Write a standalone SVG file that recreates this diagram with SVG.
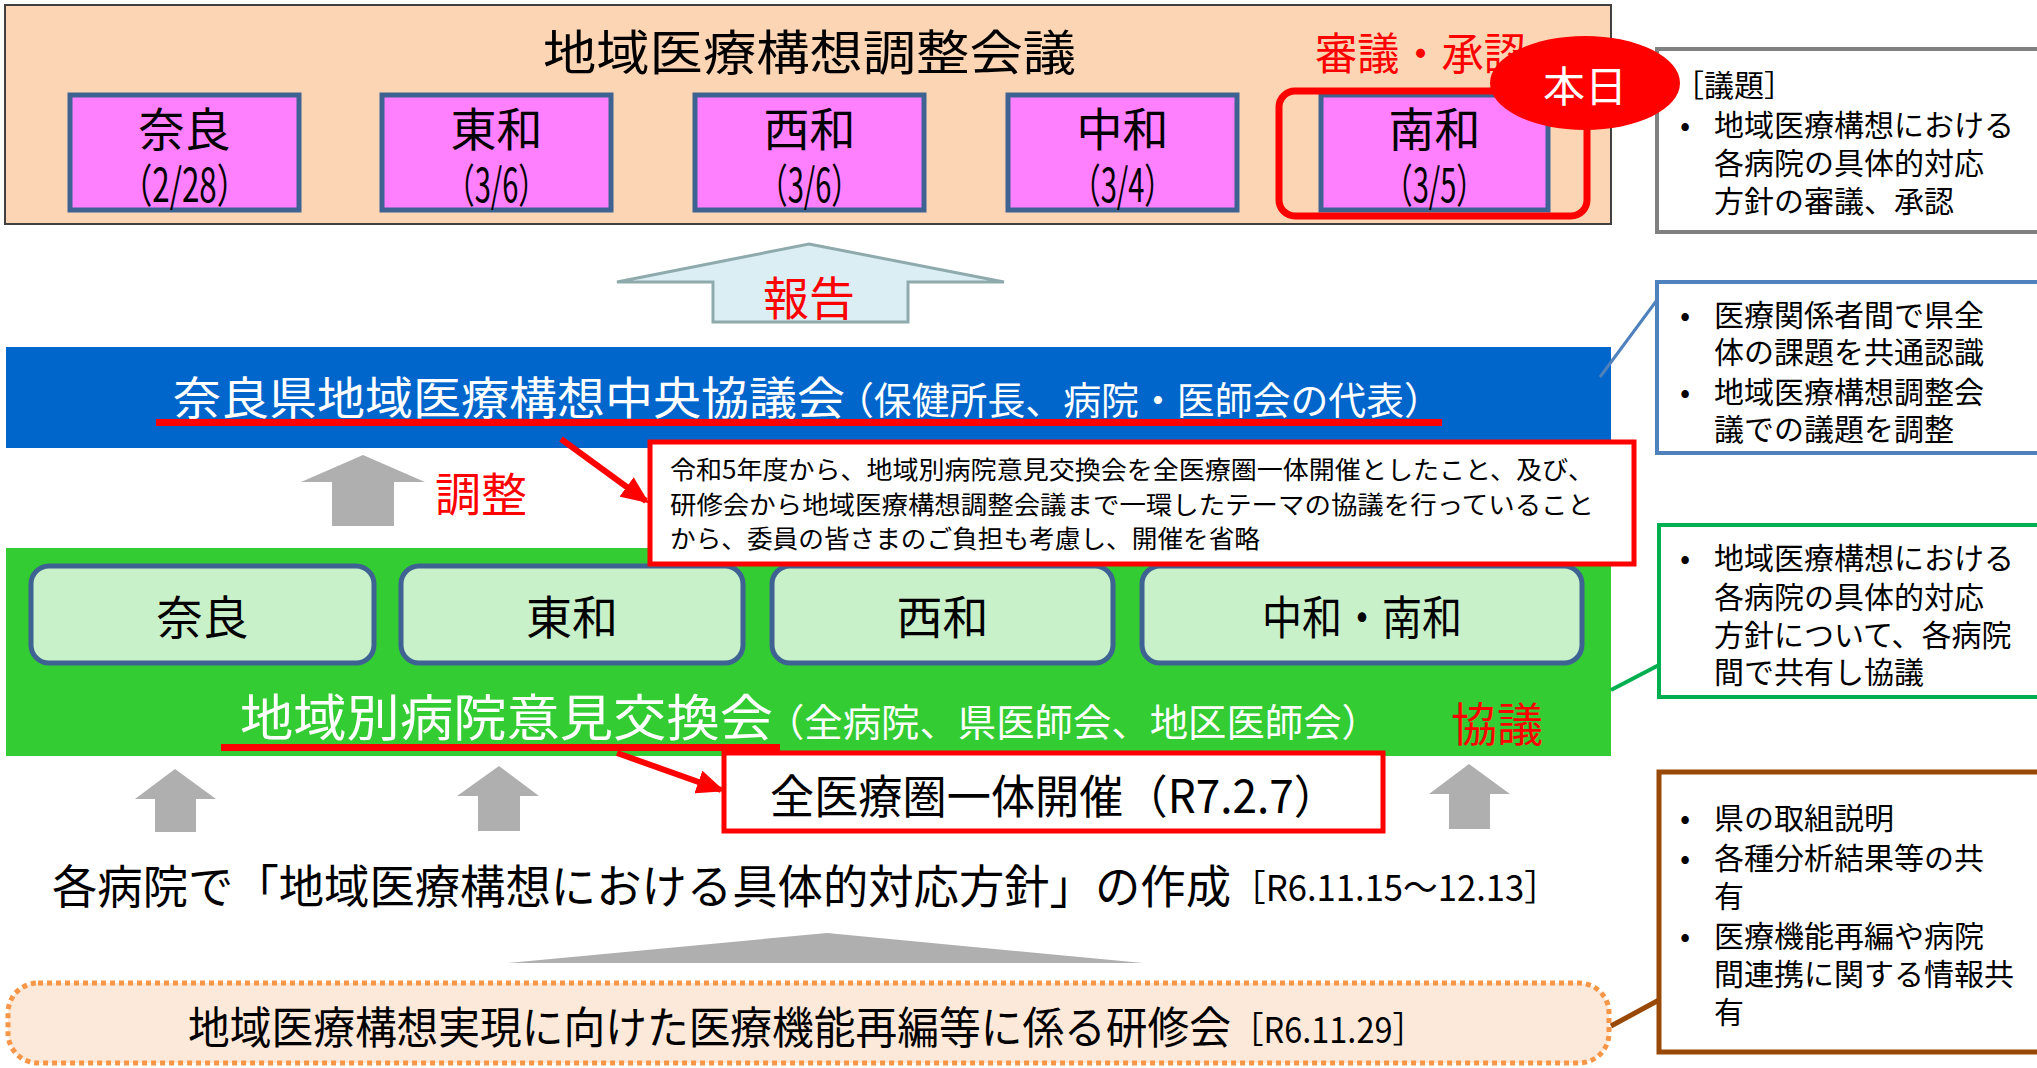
<svg xmlns="http://www.w3.org/2000/svg" width="2037" height="1068" viewBox="0 0 2037 1068">
<style>
text{font-family:"Noto Sans CJK JP","Noto Sans",sans-serif;dominant-baseline:central}
.pink{fill:#FF80FF;stroke:#3E6392;stroke-width:5}
.lg{fill:#C8F0C9;stroke:#3E6392;stroke-width:5}
.big{font-size:46px;fill:#000}
.side{font-size:30px;fill:#000}
.red{fill:#FF0000}
.wh{fill:#FFFFFF}
.garrow{fill:#AFAFAF}
</style>
<defs>
<marker id="ah" markerUnits="userSpaceOnUse" markerWidth="28" markerHeight="24" refX="24" refY="12" orient="auto">
<path d="M0,0 L28,12 L0,24 Z" fill="#FF0000"/>
</marker>
</defs>
<rect width="2037" height="1068" fill="#FFFFFF"/>

<!-- Right side boxes -->
<g id="box-agenda">
<rect x="1657" y="49" width="390" height="183" fill="#FFFFFF" stroke="#808080" stroke-width="4"/>
<text class="side" x="1674" y="83">［議題］</text>
<text class="side" x="1680" y="123">•</text>
<text class="side" x="1714" y="123">地域医療構想における</text>
<text class="side" x="1714" y="161">各病院の具体的対応</text>
<text class="side" x="1714" y="199">方針の審議、承認</text>
</g>
<g id="box-central">
<rect x="1657" y="282" width="390" height="171" fill="#FFFFFF" stroke="#4F81BD" stroke-width="4"/>
<text class="side" x="1680" y="313">•</text>
<text class="side" x="1714" y="313">医療関係者間で県全</text>
<text class="side" x="1714" y="350">体の課題を共通認識</text>
<text class="side" x="1680" y="390">•</text>
<text class="side" x="1714" y="390">地域医療構想調整会</text>
<text class="side" x="1714" y="427">議での議題を調整</text>
</g>
<g id="box-regional">
<rect x="1659" y="525" width="390" height="172" fill="#FFFFFF" stroke="#00B050" stroke-width="4"/>
<text class="side" x="1680" y="556">•</text>
<text class="side" x="1714" y="556">地域医療構想における</text>
<text class="side" x="1714" y="595">各病院の具体的対応</text>
<text class="side" x="1714" y="633">方針について、各病院</text>
<text class="side" x="1714" y="670">間で共有し協議</text>
</g>
<g id="box-training">
<rect x="1659" y="772" width="390" height="280" fill="#FFFFFF" stroke="#984807" stroke-width="5"/>
<text class="side" x="1680" y="816">•</text>
<text class="side" x="1714" y="816">県の取組説明</text>
<text class="side" x="1680" y="856">•</text>
<text class="side" x="1714" y="856">各種分析結果等の共</text>
<text class="side" x="1714" y="894">有</text>
<text class="side" x="1680" y="934">•</text>
<text class="side" x="1714" y="934">医療機能再編や病院</text>
<text class="side" x="1714" y="972">間連携に関する情報共</text>
<text class="side" x="1714" y="1010">有</text>
</g>

<!-- Top: 地域医療構想調整会議 -->
<g id="chousei">
<rect x="5" y="5" width="1606" height="219" fill="#FCD5B4" stroke="#404040" stroke-width="2"/>
<text x="543" y="49" font-size="48" fill="#000" textLength="533" lengthAdjust="spacingAndGlyphs">地域医療構想調整会議</text>
<text x="1315" y="51" font-size="44" class="red" textLength="211" lengthAdjust="spacingAndGlyphs">審議・承認</text>
</g>
<g id="nara-top">
<rect class="pink" x="70" y="95" width="229" height="115"/>
<text class="big" x="184.5" y="126" text-anchor="middle" textLength="92" lengthAdjust="spacingAndGlyphs">奈良</text>
<text class="big" x="184.5" y="182" text-anchor="middle" textLength="127" lengthAdjust="spacingAndGlyphs">（2/28）</text>
</g>
<g id="touwa-top">
<rect class="pink" x="382" y="95" width="229" height="115"/>
<text class="big" x="496.5" y="126" text-anchor="middle" textLength="92" lengthAdjust="spacingAndGlyphs">東和</text>
<text class="big" x="496.5" y="182" text-anchor="middle" textLength="102" lengthAdjust="spacingAndGlyphs">（3/6）</text>
</g>
<g id="seiwa-top">
<rect class="pink" x="695" y="95" width="229" height="115"/>
<text class="big" x="809.5" y="126" text-anchor="middle" textLength="92" lengthAdjust="spacingAndGlyphs">西和</text>
<text class="big" x="809.5" y="182" text-anchor="middle" textLength="102" lengthAdjust="spacingAndGlyphs">（3/6）</text>
</g>
<g id="chuwa-top">
<rect class="pink" x="1008" y="95" width="229" height="115"/>
<text class="big" x="1122.5" y="126" text-anchor="middle" textLength="92" lengthAdjust="spacingAndGlyphs">中和</text>
<text class="big" x="1122.5" y="182" text-anchor="middle" textLength="102" lengthAdjust="spacingAndGlyphs">（3/4）</text>
</g>
<g id="nanwa-top">
<rect class="pink" x="1321" y="95" width="227" height="115"/>
<text class="big" x="1434.5" y="126" text-anchor="middle" textLength="92" lengthAdjust="spacingAndGlyphs">南和</text>
<text class="big" x="1434.5" y="182" text-anchor="middle" textLength="102" lengthAdjust="spacingAndGlyphs">（3/5）</text>
<rect x="1279" y="91" width="308" height="125" rx="16" fill="none" stroke="#FF0000" stroke-width="7"/>
</g>
<g id="today">
<ellipse cx="1585" cy="83" rx="95" ry="47" fill="#FF0000"/>
<text x="1585" y="83" font-size="42" class="wh" text-anchor="middle">本日</text>
</g>

<!-- 報告 arrow -->
<g id="houkoku">
<polygon points="809,244 1004,282 908,282 908,322 713,322 713,282 617,282" fill="#DAEEF3" stroke="#8FAAAD" stroke-width="3"/>
<text x="809" y="295" font-size="46" class="red" text-anchor="middle">報告</text>
</g>

<!-- Central council band -->
<g id="central">
<rect x="6" y="347" width="1605" height="101" fill="#0066CC"/>
<text x="173" y="395" font-size="45" class="wh" textLength="672" lengthAdjust="spacingAndGlyphs">奈良県地域医療構想中央協議会</text>
<text x="836" y="397" font-size="38" class="wh" textLength="606" lengthAdjust="spacingAndGlyphs">（保健所長、病院・医師会の代表）</text>
<rect x="156" y="419" width="1286" height="7" fill="#FF0000"/>
</g>

<!-- 調整 arrow -->
<g id="adjust">
<polygon class="garrow" points="363,455 425,482 394,482 394,526 332,526 332,482 301,482"/>
<text x="481" y="491" font-size="46" class="red" text-anchor="middle">調整</text>
</g>

<!-- Regional band -->
<g id="regional">
<rect x="6" y="548" width="1605" height="208" fill="#33CC33"/>
<text x="240" y="714" font-size="50" class="wh" textLength="533" lengthAdjust="spacingAndGlyphs">地域別病院意見交換会</text>
<text x="766" y="719" font-size="38" class="wh" textLength="614" lengthAdjust="spacingAndGlyphs">（全病院、県医師会、地区医師会）</text>
<rect x="221" y="744" width="559" height="7" fill="#FF0000"/>
<text x="1497" y="721" font-size="46" class="red" text-anchor="middle">協議</text>
</g>
<g id="nara-r">
<rect class="lg" x="31" y="566" width="343" height="97" rx="18"/>
<text class="big" x="202.5" y="614" text-anchor="middle" textLength="92" lengthAdjust="spacingAndGlyphs">奈良</text>
</g>
<g id="touwa-r">
<rect class="lg" x="401" y="566" width="342" height="97" rx="18"/>
<text class="big" x="572" y="614" text-anchor="middle" textLength="92" lengthAdjust="spacingAndGlyphs">東和</text>
</g>
<g id="seiwa-r">
<rect class="lg" x="772" y="566" width="341" height="97" rx="18"/>
<text class="big" x="942.5" y="614" text-anchor="middle" textLength="92" lengthAdjust="spacingAndGlyphs">西和</text>
</g>
<g id="chunan-r">
<rect class="lg" x="1142" y="566" width="440" height="97" rx="18"/>
<text class="big" x="1362" y="614" text-anchor="middle" textLength="200" lengthAdjust="spacingAndGlyphs">中和・南和</text>
</g>

<!-- Note box -->
<g id="note">
<rect x="650" y="442" width="984" height="122" fill="#FFFFFF" stroke="#FF0000" stroke-width="5"/>
<text x="670" y="468" font-size="25" fill="#000" textLength="924" lengthAdjust="spacingAndGlyphs">令和5年度から、地域別病院意見交換会を全医療圏一体開催としたこと、及び、</text>
<text x="670" y="503" font-size="25" fill="#000" textLength="924" lengthAdjust="spacingAndGlyphs">研修会から地域医療構想調整会議まで一環したテーマの協議を行っていること</text>
<text x="670" y="537" font-size="25" fill="#000" textLength="590" lengthAdjust="spacingAndGlyphs">から、委員の皆さまのご負担も考慮し、開催を省略</text>
</g>

<!-- Joint meeting box -->
<g id="joint">
<rect x="724" y="753" width="659" height="78" fill="#FFFFFF" stroke="#FF0000" stroke-width="5"/>
<text x="770" y="793" font-size="46" fill="#000" textLength="568" lengthAdjust="spacingAndGlyphs">全医療圏一体開催（R7.2.7）</text>
</g>

<!-- Up arrows under regional band -->
<g id="up-arrows">
<polygon class="garrow" points="175,769 216,799 196,799 196,832 155,832 155,799 135,799"/>
<polygon class="garrow" points="499,766 539,796 520,796 520,831 478,831 478,796 457,796"/>
<polygon class="garrow" points="1469,764 1510,794 1490,794 1490,829 1449,829 1449,794 1429,794"/>
</g>

<!-- Hospital plans line -->
<g id="plans">
<text x="52" y="883" font-size="46" fill="#000" textLength="1179" lengthAdjust="spacingAndGlyphs">各病院で「地域医療構想における具体的対応方針」の作成</text>
<text x="1231" y="885" font-size="36" fill="#000" textLength="328" lengthAdjust="spacingAndGlyphs">［R6.11.15～12.13］</text>
</g>

<polygon class="garrow" points="827,933 1143,963 507,963"/>

<!-- Training session -->
<g id="training">
<rect x="8" y="983" width="1601" height="80" rx="30" fill="#FDE9D9" stroke="#F79646" stroke-width="5" stroke-dasharray="5,4"/>
<text x="188" y="1025" font-size="44" fill="#000" textLength="1043" lengthAdjust="spacingAndGlyphs">地域医療構想実現に向けた医療機能再編等に係る研修会</text>
<text x="1231" y="1027" font-size="36" fill="#000" textLength="194" lengthAdjust="spacingAndGlyphs">［R6.11.29］</text>
</g>

<!-- Connectors -->
<g id="connectors">
<line x1="561" y1="439" x2="646" y2="501" stroke="#FF0000" stroke-width="6" marker-end="url(#ah)"/>
<line x1="617" y1="753" x2="721" y2="790" stroke="#FF0000" stroke-width="6" marker-end="url(#ah)"/>
<line x1="1657" y1="300" x2="1600" y2="377" stroke="#4F81BD" stroke-width="3"/>
<line x1="1659" y1="665" x2="1611" y2="690" stroke="#00B050" stroke-width="4"/>
<line x1="1659" y1="1000" x2="1611" y2="1026" stroke="#984807" stroke-width="5"/>
</g>
</svg>
